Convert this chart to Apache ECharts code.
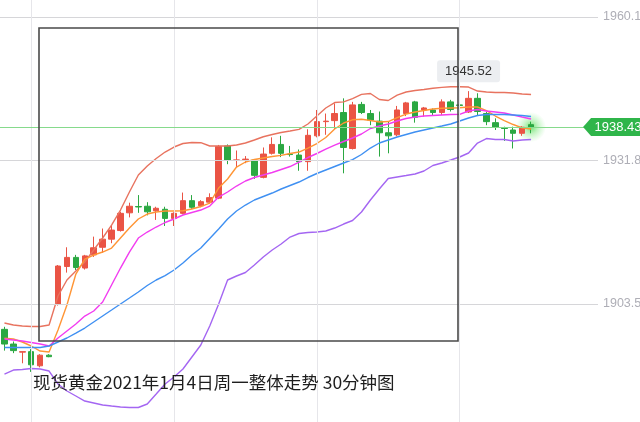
<!DOCTYPE html>
<html>
<head>
<meta charset="utf-8">
<script src="https://cdn.jsdelivr.net/npm/echarts@6/dist/echarts.min.js"></script>
<style>
html,body{margin:0;padding:0;background:#fff;}
#c{width:640px;height:422px;}
</style>
</head>
<body>
<div id="c"></div>
<script>
// ---- data ----
const titleText = '现货黄金2021年1月4日周一整体走势 30分钟图';
const slotCount = 67; // 60 candles + empty room on the right
const categories = Array.from({length: slotCount}, (_, i) => 'K' + i);

// [open, close, low, high]
const candles = [
  [1898.5,1895.6,1894.3,1899.0],[1895.6,1894.3,1893.8,1896.1],[1894.0,1894.1,1891.8,1894.1],[1894.1,1891.5,1890.1,1894.6],
  [1891.3,1893.4,1891.0,1893.6],[1893.4,1893.1,1893.0,1893.6],[1903.4,1911.0,1903.2,1911.2],[1910.9,1912.7,1909.7,1914.7],
  [1912.7,1910.7,1910.2,1913.2],[1910.6,1913.0,1910.3,1913.2],[1913.2,1914.6,1912.8,1916.8],[1914.7,1916.3,1913.6,1918.4],
  [1916.3,1918.1,1915.5,1918.9],[1918.0,1921.4,1917.8,1921.7],[1921.5,1922.8,1920.6,1923.5],[1922.75,1922.65,1921.5,1925.0],
  [1922.8,1921.7,1921.0,1923.6],[1921.9,1922.4,1920.1,1922.7],[1922.2,1920.4,1918.9,1922.7],[1920.4,1921.4,1918.9,1921.6],
  [1921.4,1923.9,1921.2,1925.5],[1923.9,1922.6,1922.3,1925.0],[1922.9,1923.7,1922.6,1924.0],[1923.6,1924.5,1923.3,1925.35],
  [1924.4,1934.6,1924.2,1934.9],[1934.7,1931.9,1931.1,1935.0],[1931.85,1931.95,1930.5,1933.8],[1932.0,1932.1,1931.3,1932.7],
  [1931.9,1928.9,1928.2,1932.1],[1928.5,1933.1,1928.3,1934.4],[1933.25,1935.0,1933.0,1936.4],[1935.0,1933.25,1932.5,1936.7],
  [1933.1,1933.0,1932.6,1934.7],[1932.9,1931.6,1929.8,1934.0],[1931.6,1936.8,1929.8,1938.0],[1936.7,1939.5,1936.4,1941.8],
  [1939.5,1939.6,1936.9,1941.1],[1939.7,1941.1,1938.0,1943.1],[1941.3,1934.4,1929.3,1944.1],[1934.2,1942.8,1934.0,1943.4],
  [1942.9,1941.3,1941.0,1943.4],[1941.1,1939.8,1938.8,1941.8],[1939.6,1937.3,1932.6,1941.5],[1937.3,1936.7,1933.25,1939.5],
  [1936.9,1941.8,1936.6,1942.6],[1941.1,1943.2,1940.6,1943.4],[1943.4,1940.35,1939.3,1943.6],[1941.8,1942.2,1940.5,1942.4],
  [1941.8,1941.3,1940.8,1942.1],[1941.3,1943.4,1940.8,1943.9],[1943.4,1941.9,1941.5,1943.8],[1942.8,1942.7,1941.8,1943.6],
  [1941.4,1944.1,1941.2,1945.52],[1944.1,1941.5,1940.6,1945.1],[1941.1,1939.5,1938.8,1941.4],[1939.3,1938.4,1937.85,1940.15],
  [1938.25,1938.15,1935.7,1938.5],[1937.85,1937.2,1934.2,1938.5],[1937.2,1938.4,1936.7,1938.6],[1938.9,1938.43,1937.2,1939.5]
];

const bollUpper = [1899.75,1899.35,1899.16,1899.06,1899.06,1899.35,1905.08,1908.24,1910.01,1911.79,
  1914.16,1916.53,1919.09,1922.05,1925.61,1928.96,1930.74,1932.22,1933.50,1934.49,
  1935.18,1935.38,1935.34,1934.69,1934.69,1934.69,1934.88,1935.28,1935.87,1936.52,
  1936.96,1937.35,1937.65,1937.98,1939.03,1940.61,1942.19,1943.27,1943.41,1944.06,
  1944.89,1945.05,1943.87,1943.67,1944.75,1945.35,1945.64,1945.84,1946.08,1946.27,
  1946.39,1946.39,1946.33,1945.54,1945.35,1945.25,1945.25,1945.15,1944.95,1944.85];
const maFast = [1896.73,1896.59,1896.00,1895.21,1894.22,1894.02,1898.37,1903.30,1909.42,1912.38,
  1913.17,1913.76,1914.55,1916.53,1918.50,1920.28,1921.26,1921.66,1921.86,1921.86,
  1921.91,1922.25,1922.74,1923.43,1926.40,1928.17,1930.54,1931.53,1932.02,1932.32,
  1932.61,1932.85,1933.21,1933.50,1934.29,1935.18,1936.36,1938.04,1939.23,1939.86,
  1939.96,1939.72,1939.42,1939.52,1940.31,1941.00,1941.40,1941.69,1941.99,1942.13,
  1942.19,1942.25,1942.39,1942.39,1941.69,1940.61,1939.72,1938.93,1938.28,1938.04];
const maSlow = [1896.59,1896.39,1896.20,1895.90,1895.60,1895.21,1896.79,1898.17,1899.55,1901.13,
  1902.12,1903.89,1907.25,1910.60,1913.76,1916.53,1917.71,1918.70,1919.59,1920.28,
  1921.07,1921.56,1922.05,1922.84,1924.62,1925.61,1926.79,1927.78,1928.47,1928.96,
  1929.46,1930.05,1930.64,1931.53,1932.42,1933.21,1934.09,1934.88,1935.58,1936.27,
  1937.06,1938.14,1938.63,1939.03,1939.62,1940.12,1940.41,1940.61,1940.71,1940.81,
  1940.90,1940.94,1941.60,1941.89,1941.60,1941.40,1941.20,1940.81,1940.41,1940.02];
const bollMid = [1894.91,1894.91,1894.91,1894.91,1894.91,1895.21,1896.00,1896.79,1897.77,1898.76,
  1899.95,1901.13,1902.31,1903.50,1904.68,1905.87,1907.15,1908.24,1909.12,1910.21,
  1911.59,1913.17,1914.55,1916.43,1918.30,1920.28,1921.86,1923.04,1924.03,1924.72,
  1925.41,1926.20,1926.89,1927.58,1928.47,1929.26,1929.95,1930.64,1931.33,1932.02,
  1933.01,1934.29,1935.28,1935.87,1936.46,1936.96,1937.45,1937.85,1938.24,1938.63,
  1939.03,1939.62,1940.21,1940.71,1940.90,1940.90,1940.90,1940.81,1940.71,1940.51];
const bollLower = [1889.68,1890.47,1890.57,1890.77,1890.67,1890.27,1887.71,1886.33,1885.34,1884.35,
  1883.96,1883.56,1883.36,1883.17,1883.07,1883.07,1883.76,1885.73,1887.71,1889.09,
  1890.67,1893.04,1895.41,1899.16,1903.50,1908.24,1909.03,1909.72,1911.20,1912.78,
  1914.16,1915.34,1916.72,1917.42,1917.61,1917.71,1917.91,1918.50,1919.29,1919.98,
  1921.66,1924.03,1926.20,1928.27,1928.57,1928.86,1929.16,1929.75,1930.84,1931.33,
  1931.92,1932.52,1933.31,1935.28,1936.17,1935.97,1935.97,1935.67,1935.87,1935.97];

const priceTicks = ['1960.15','1931.80','1903.50'];
const lastPrice = 1938.43;
const highPrice = 1945.52;
const highIndex = 52;
const lastIndex = 59;
const vGridIdx = [3, 19, 35, 51];
const yMin = 1880.21, yMax = 1963.51;

// ---- chart ----
const chart = echarts.init(document.getElementById('c'), null, {renderer: 'canvas'});
const lineBase = (name, data, color) => ({
  name, type: 'line', data, showSymbol: false, symbol: 'none', z: 4,
  lineStyle: {color, width: 1.4}, silent: true
});

const option = {
  animation: false,
  backgroundColor: '#ffffff',
  title: {
    text: titleText, left: 28, top: 369,
    textStyle: {fontFamily: 'Noto Sans CJK SC', fontSize: 17.5, fontWeight: 'normal', color: '#1e1e1e'}
  },
  grid: {left: 0, right: 42, top: 0, bottom: 0, containLabel: false},
  xAxis: {
    type: 'category', data: categories, boundaryGap: true,
    axisLine: {show: false}, axisTick: {show: false}, axisLabel: {show: false}, splitLine: {show: false}
  },
  yAxis: {
    type: 'value', position: 'right', min: yMin, max: yMax, scale: true,
    axisLine: {show: false}, axisTick: {show: false}, axisLabel: {show: false}, splitLine: {show: false}
  },
  series: [
    {
      name: 'grid', type: 'line', data: [], silent: true, z: 1,
      markLine: {
        silent: true, symbol: ['none', 'none'], animation: false,
        data: [
          ...priceTicks.map(t => ({yAxis: parseFloat(t), name: t,
            lineStyle: {color: '#d6d6d9', width: 1, type: 'solid'},
            label: {show: true, position: 'end', distance: 5, formatter: '{b}', color: '#aeaeb6',
              fontFamily: 'Liberation Sans', fontSize: 12.5}})),
          ...vGridIdx.map(i => ({xAxis: categories[i],
            lineStyle: {color: '#e6e6ea', width: 1, type: 'solid'}, label: {show: false}}))
        ]
      }
    },
    {
      name: 'glow', type: 'scatter', z: 2, silent: true,
      data: [[categories[lastIndex], lastPrice]],
      symbolSize: 30,
      itemStyle: {
        color: new echarts.graphic.RadialGradient(0.5, 0.5, 0.5, [
          {offset: 0, color: 'rgba(70,215,70,0.95)'},
          {offset: 0.45, color: 'rgba(90,225,90,0.45)'},
          {offset: 1, color: 'rgba(120,235,120,0)'}
        ])
      }
    },
    {
      name: 'K', type: 'candlestick', data: candles, z: 3, barWidth: 6,
      itemStyle: {color: '#ea5445', color0: '#2ba842', borderColor: '#ea5445', borderColor0: '#2ba842', borderWidth: 1},
      markLine: {
        silent: true, symbol: ['none', 'none'],
        data: [{yAxis: lastPrice, lineStyle: {color: '#86da8c', width: 1, type: 'solid'}, label: {show: false}}]
      },
      markPoint: {
        silent: true,
        data: [
          {
            coord: [categories[highIndex], highPrice], value: highPrice.toFixed(2),
            symbol: 'circle', symbolSize: 0,
            label: {show: true, position: 'top', distance: 9, formatter: '{c}',
              backgroundColor: '#eceef1', borderRadius: 3, padding: [5, 8, 4, 8],
              color: '#333', fontFamily: 'Liberation Sans', fontSize: 13}
          },
          {
            coord: [categories[lastIndex], lastPrice], value: lastPrice.toFixed(2),
            symbol: 'path://M0,9 L8,0 L76,0 L76,18 L8,18 Z', symbolKeepAspect: false,
            symbolSize: [76, 18], symbolOffset: [90, 0],
            itemStyle: {color: '#2fb54a'},
            label: {show: true, position: 'inside', offset: [-3, 0], formatter: '{c}',
              color: '#ffffff', fontFamily: 'Liberation Sans', fontSize: 13}
          }
        ]
      }
    },
    lineBase('UP', bollUpper, '#e8735f'),
    lineBase('MA5', maFast, '#ff9535'),
    lineBase('MA10', maSlow, '#f23cf0'),
    lineBase('MID', bollMid, '#3f90f2'),
    lineBase('DN', bollLower, '#a466f2')
  ],
  graphic: [
    {type: 'rect', z: 100, silent: true,
      shape: {x: 39, y: 28, width: 419, height: 313},
      style: {fill: 'none', stroke: '#4a4a4a', lineWidth: 1.6}}
  ]
};
chart.setOption(option);
</script>
</body>
</html>
